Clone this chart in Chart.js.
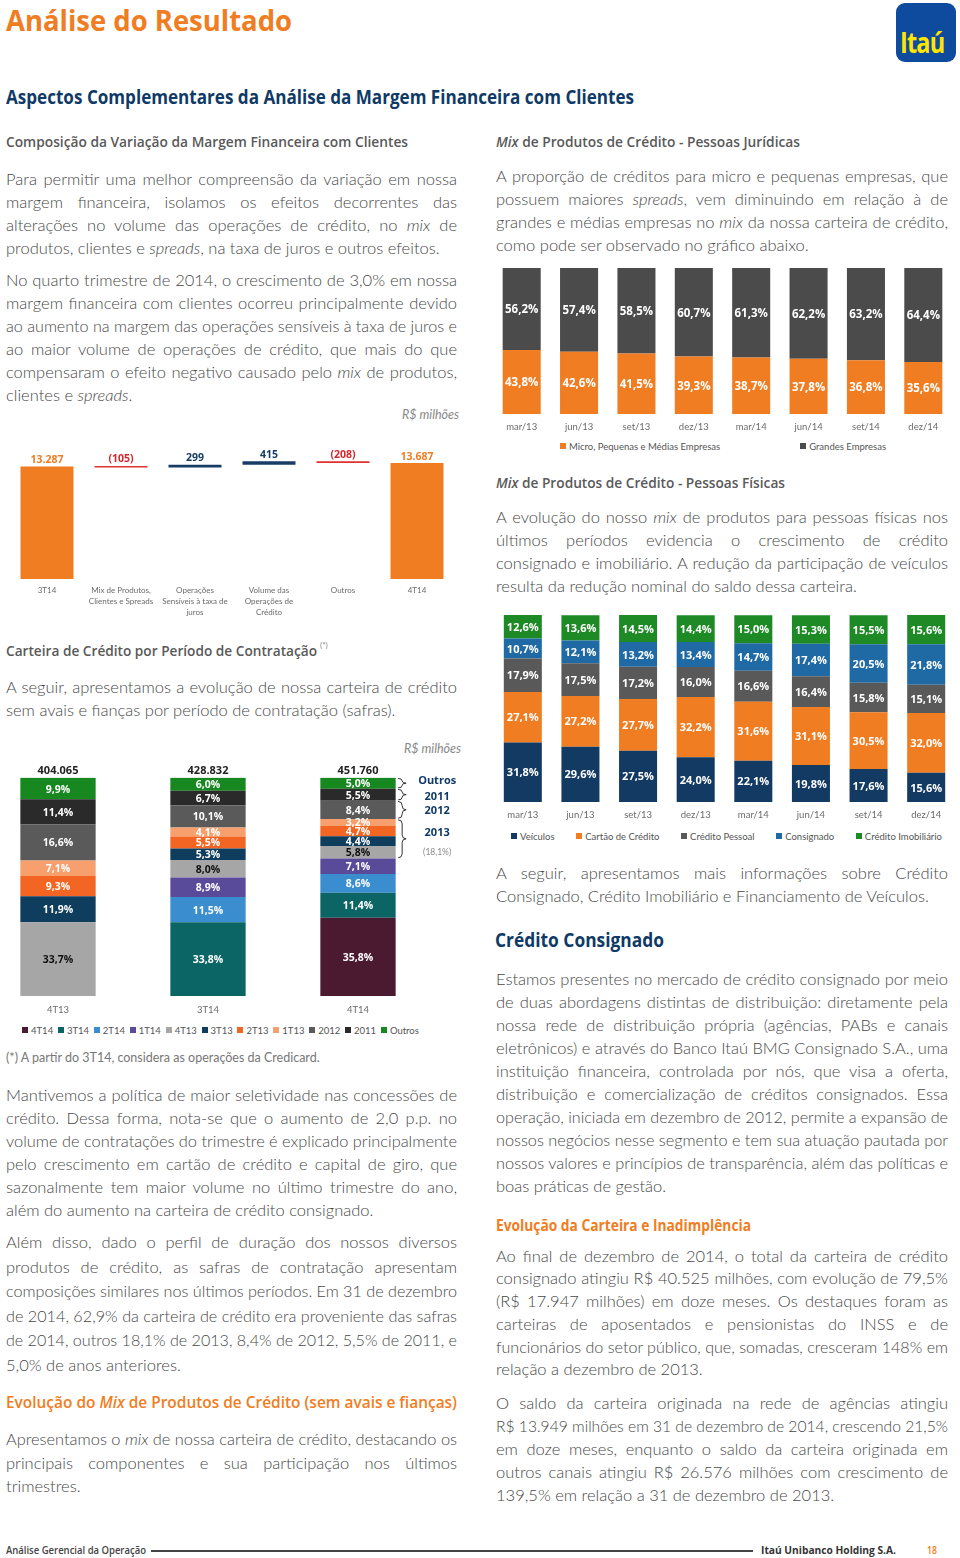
<!DOCTYPE html>
<html lang="pt-BR">
<head>
<meta charset="utf-8">
<title>Análise do Resultado</title>
<script src="https://cdn.jsdelivr.net/npm/chart.js@4.4.0/dist/chart.umd.min.js"></script>
<style>
  body { margin: 0; width: 960px; height: 1558px; position: relative; overflow: hidden; background: #fff; font-family: Lato, sans-serif; }
  canvas { position: absolute; }
  .h { position: absolute; white-space: nowrap; transform-origin: 0 50%; font-family: "Open Sans", sans-serif; font-weight: 700; }
  .p { position: absolute; color: #484848; font-size: 16.5px; font-weight: 300; }
  .ln { white-space: nowrap; }
  .note { position: absolute; white-space: nowrap; color: #888; }
  .lg { position: absolute; display: flex; justify-content: space-between; font-size: 9.5px; color: #555; line-height: 14px; white-space: nowrap; }
  .lg span i { display: inline-block; width: 6px; height: 6px; margin-right: 3px; vertical-align: 1px; }
  .logo { position: absolute; left: 896px; top: 3px; width: 60px; height: 59px; border-radius: 9px; background: #0E4A9E; }
  .logo b { position: absolute; left: 4px; top: 24px; color: #FFE500; font-family: "Open Sans", sans-serif; font-size: 28px; line-height: 30px; letter-spacing: -1px; transform: scaleX(0.84); transform-origin: 0 50%; }
</style>
</head>
<body>

<div class="h fit" data-w="286" style="left:6px;top:5px;font-size:28px;line-height:30px;color:#F07D22">Análise do Resultado</div>
<div class="logo"><b>Itaú</b></div>

<div class="h fit" data-w="628" style="left:6px;top:86px;font-size:19px;line-height:22px;color:#0F3A66">Aspectos Complementares da Análise da Margem Financeira com Clientes</div>

<div class="h fit" data-w="402" style="left:6px;top:132px;font-size:14.5px;line-height:20px;color:#595959;font-weight:600">Composição da Variação da Margem Financeira com Clientes</div>
<div class="h fit" data-w="304" style="left:496px;top:132px;font-size:14.5px;line-height:20px;color:#595959;font-weight:600"><i>Mix</i> de Produtos de Crédito - Pessoas Jurídicas</div>

<div class="note" style="left:402px;top:407px;font-size:12.5px;font-style:italic">R$ milhões</div>

<div class="h fit" data-w="311" style="left:6px;top:641px;font-size:14.5px;line-height:20px;color:#595959;font-weight:600">Carteira de Crédito por Período de Contratação</div>
<div class="note" style="left:320px;top:640px;font-size:8px">(*)</div>

<div class="note" style="left:404px;top:741px;font-size:12.5px;font-style:italic">R$ milhões</div>

<div class="note" style="left:6px;top:1050px;font-size:12.5px;color:#777">(*) A partir do 3T14, considera as operações da Credicard.</div>

<div class="h fit" data-w="451" style="left:6px;top:1392px;font-size:16.5px;line-height:20px;color:#F07D22;font-weight:600">Evolução do <i>Mix</i> de Produtos de Crédito (sem avais e fianças)</div>

<div class="h fit" data-w="289" style="left:496px;top:473px;font-size:14.5px;line-height:20px;color:#595959;font-weight:600"><i>Mix</i> de Produtos de Crédito - Pessoas Físicas</div>

<div class="h fit" data-w="169" style="left:495px;top:929px;font-size:19px;line-height:22px;color:#0F3A66">Crédito Consignado</div>
<div class="h fit" data-w="255" style="left:496px;top:1215px;font-size:15.5px;line-height:20px;color:#F07D22">Evolução da Carteira e Inadimplência</div>

<div class="h fit" data-w="140" style="left:6px;top:1543px;font-size:11px;line-height:14px;color:#444;font-weight:600">Análise Gerencial da Operação</div>
<div style="position:absolute;left:151px;top:1550px;width:602px;height:1.5px;background:#444"></div>
<div class="h fit" data-w="135" style="left:761px;top:1543px;font-size:11px;line-height:14px;color:#333">Itaú Unibanco Holding S.A.</div>
<div class="h fit" data-w="10" style="left:927px;top:1543px;font-size:11px;line-height:14px;color:#F07D22;font-weight:600">18</div>

<canvas id="wf" width="460" height="190" style="left:0;top:440px"></canvas>
<canvas id="safras" width="477" height="278" style="left:-17px;top:740px"></canvas>
<canvas id="pj" width="459" height="176" style="left:493px;top:260px"></canvas>
<canvas id="pf" width="461" height="219" style="left:494px;top:605px"></canvas>

<script>
// Composição da variação da margem financeira (R$ milhões)
const wfCategories = [["3T14"], ["Mix de Produtos,", "Clientes e Spreads"], ["Operações", "Sensíveis à taxa de", "juros"], ["Volume das", "Operações de", "Crédito"], ["Outros"], ["4T14"]];
const wfValues = [13287, -105, 299, 415, -208, 13687];

// Carteira de crédito por período de contratação (%)
const safraCategories = ["4T13", "3T14", "4T14"];
const safraTotals = [404065, 428832, 451760];
const safraNames = ["4T14", "3T14", "2T14", "1T14", "4T13", "3T13", "2T13", "1T13", "2012", "2011", "Outros"];
const safra4T14 = [null, null, 35.8];
const safra3T14 = [null, 33.8, 11.4];
const safra2T14 = [null, 11.5, 8.6];
const safra1T14 = [null, 8.9, 7.1];
const safra4T13 = [33.7, 8.0, 5.8];
const safra3T13 = [11.9, 5.3, 4.4];
const safra2T13 = [9.3, 5.5, 4.7];
const safra1T13 = [7.1, 4.1, 3.2];
const safra2012 = [16.6, 10.1, 8.4];
const safra2011 = [11.4, 6.7, 5.5];
const safraOutros = [9.9, 6.0, 5.0];

// Mix de produtos - periodos
const periods = ["mar/13", "jun/13", "set/13", "dez/13", "mar/14", "jun/14", "set/14", "dez/14"];

// Pessoas Jurídicas (%)
const pjMicro = [43.8, 42.6, 41.5, 39.3, 38.7, 37.8, 36.8, 35.6];
const pjGrandes = [56.2, 57.4, 58.5, 60.7, 61.3, 62.2, 63.2, 64.4];

// Pessoas Físicas (%)
const pfVeiculos = [31.8, 29.6, 27.5, 24.0, 22.1, 19.8, 17.6, 15.6];
const pfCartao = [27.1, 27.2, 27.7, 32.2, 31.6, 31.1, 30.5, 32.0];
const pfPessoal = [17.9, 17.5, 17.2, 16.0, 16.6, 16.4, 15.8, 15.1];
const pfConsignado = [10.7, 12.1, 13.2, 13.4, 14.7, 17.4, 20.5, 21.8];
const pfImobiliario = [12.6, 13.6, 14.5, 14.4, 15.0, 15.3, 15.5, 15.6];

// ---------- texto ----------
function para(x, y, w, lh, lines) {
  const box = document.createElement('div');
  box.className = 'p';
  box.style.left = x + 'px';
  box.style.top = y + 'px';
  box.style.width = w + 'px';
  lines.forEach(function (html) {
    const ln = document.createElement('div');
    ln.className = 'ln';
    ln.style.height = lh + 'px';
    ln.style.lineHeight = lh + 'px';
    const sp = document.createElement('span');
    sp.innerHTML = html;
    ln.appendChild(sp);
    box.appendChild(ln);
  });
  document.body.appendChild(box);
  box.querySelectorAll('.ln').forEach(function (ln, k) {
    const sp = ln.firstChild;
    const nat = sp.getBoundingClientRect().width;
    if (nat > w) {
      sp.style.display = 'inline-block';
      sp.style.transformOrigin = '0 50%';
      sp.style.transform = 'scaleX(' + (w / nat) + ')';
    } else if (k < lines.length - 1) {
      const n = (sp.textContent.match(/ /g) || []).length;
      if (n) sp.style.wordSpacing = ((w - nat) / n) + 'px';
    }
  });
}

para(6, 167.5, 451, 23, [
  "Para permitir uma melhor compreensão da variação em nossa",
  "margem financeira, isolamos os efeitos decorrentes das",
  "alterações no volume das operações de crédito, no <i>mix</i> de",
  "produtos, clientes e <i>spreads</i>, na taxa de juros e outros efeitos."
]);
para(6, 268.5, 451, 23, [
  "No quarto trimestre de 2014, o crescimento de 3,0% em nossa",
  "margem financeira com clientes ocorreu principalmente devido",
  "ao aumento na margem das operações sensíveis à taxa de juros e",
  "ao maior volume de operações de crédito, que mais do que",
  "compensaram o efeito negativo causado pelo <i>mix</i> de produtos,",
  "clientes e <i>spreads</i>."
]);
para(6, 675.5, 451, 23, [
  "A seguir, apresentamos a evolução de nossa carteira de crédito",
  "sem avais e fianças por período de contratação (safras)."
]);
para(6, 1083.5, 451, 23, [
  "Mantivemos a política de maior seletividade nas concessões de",
  "crédito. Dessa forma, nota-se que o aumento de 2,0 p.p. no",
  "volume de contratações do trimestre é explicado principalmente",
  "pelo crescimento em cartão de crédito e capital de giro, que",
  "sazonalmente tem maior volume no último trimestre do ano,",
  "além do aumento na carteira de crédito consignado."
]);
para(6, 1230, 451, 24.6, [
  "Além disso, dado o perfil de duração dos nossos diversos",
  "produtos de crédito, as safras de contratação apresentam",
  "composições similares nos últimos períodos. Em 31 de dezembro",
  "de 2014, 62,9% da carteira de crédito era proveniente das safras",
  "de 2014, outros 18,1% de 2013, 8,4% de 2012, 5,5% de 2011, e",
  "5,0% de anos anteriores."
]);
para(6, 1428, 451, 23.5, [
  "Apresentamos o <i>mix</i> de nossa carteira de crédito, destacando os",
  "principais componentes e sua participação nos últimos",
  "trimestres."
]);
para(496, 164.5, 452, 23, [
  "A proporção de créditos para micro e pequenas empresas, que",
  "possuem maiores <i>spreads</i>, vem diminuindo em relação à de",
  "grandes e médias empresas no <i>mix</i> da nossa carteira de crédito,",
  "como pode ser observado no gráfico abaixo."
]);
para(496, 505.5, 452, 23, [
  "A evolução do nosso <i>mix</i> de produtos para pessoas físicas nos",
  "últimos períodos evidencia o crescimento de crédito",
  "consignado e imobiliário. A redução da participação de veículos",
  "resulta da redução nominal do saldo dessa carteira."
]);
para(496, 861.5, 452, 23, [
  "A seguir, apresentamos mais informações sobre Crédito",
  "Consignado, Crédito Imobiliário e Financiamento de Veículos."
]);
para(496, 967.5, 452, 23, [
  "Estamos presentes no mercado de crédito consignado por meio",
  "de duas abordagens distintas de distribuição: diretamente pela",
  "nossa rede de distribuição própria (agências, PABs e canais",
  "eletrônicos) e através do Banco Itaú BMG Consignado S.A., uma",
  "instituição financeira, controlada por nós, que visa a oferta,",
  "distribuição e comercialização de créditos consignados. Essa",
  "operação, iniciada em dezembro de 2012, permite a expansão de",
  "nossos negócios nesse segmento e tem sua atuação pautada por",
  "nossos valores e princípios de transparência, além das políticas e",
  "boas práticas de gestão."
]);
para(496, 1244.5, 452, 22.8, [
  "Ao final de dezembro de 2014, o total da carteira de crédito",
  "consignado atingiu R$ 40.525 milhões, com evolução de 79,5%",
  "(R$ 17.947 milhões) em doze meses. Os destaques foram as",
  "carteiras de aposentados e pensionistas do INSS e de",
  "funcionários do setor público, que, somadas, cresceram 148% em",
  "relação a dezembro de 2013."
]);
para(496, 1391.5, 452, 23, [
  "O saldo da carteira originada na rede de agências atingiu",
  "R$ 13.949 milhões em 31 de dezembro de 2014, crescendo 21,5%",
  "em doze meses, enquanto o saldo da carteira originada em",
  "outros canais atingiu R$ 26.576 milhões com crescimento de",
  "139,5% em relação a 31 de dezembro de 2013."
]);

document.querySelectorAll('.fit').forEach(function (el) {
  const w = el.getBoundingClientRect().width;
  el.style.transform = 'scaleX(' + (+el.dataset.w / w) + ')';
});

// ---------- graficos ----------
Chart.defaults.font.family = "Lato, sans-serif";
Chart.defaults.color = '#666';
Chart.defaults.animation = false;
Chart.defaults.plugins.legend.display = false;
Chart.defaults.plugins.tooltip.enabled = false;

function pct(v) { return v.toFixed(1).replace('.', ',') + '%'; }
function milhar(v) { return String(Math.abs(v)).replace(/\B(?=(\d{3})+(?!\d))/g, '.'); }

function xAxis(h, pad, size, stacked) {
  return {
    stacked: stacked,
    grid: { display: false, drawTicks: false },
    border: { display: false },
    ticks: { padding: pad, font: { size: size, lineHeight: 1.35 }, color: '#6b6b6b', maxRotation: 0, autoSkip: false },
    afterFit: function (s) { s.height = h; }
  };
}

function segmentLabels(font) {
  return {
    id: 'segmentLabels',
    afterDatasetsDraw: function (chart) {
      const ctx = chart.ctx;
      ctx.save();
      ctx.font = font;
      ctx.textAlign = 'center';
      ctx.textBaseline = 'middle';
      chart.data.datasets.forEach(function (ds, i) {
        chart.getDatasetMeta(i).data.forEach(function (bar, j) {
          const v = ds.data[j];
          if (v == null) return;
          ctx.fillStyle = ds.labelColor || '#fff';
          ctx.fillText(pct(v), bar.x, (bar.y + bar.base) / 2 + 1);
        });
      });
      ctx.restore();
    }
  };
}

function legend(x, y, w, items) {
  const box = document.createElement('div');
  box.className = 'lg';
  box.style.left = x + 'px';
  box.style.top = (y - 7) + 'px';
  box.style.width = w + 'px';
  items.forEach(function (it) {
    const s = document.createElement('span');
    s.innerHTML = '<i style="background:' + it.backgroundColor + '"></i>' + it.label;
    box.appendChild(s);
  });
  document.body.appendChild(box);
}

// Waterfall
const wfFloat = [];
let run = 0;
wfValues.forEach(function (v, i) {
  if (i === 0 || i === wfValues.length - 1) { wfFloat.push([0, v]); run = v; }
  else { wfFloat.push([run, run + v]); run += v; }
});
function wfColor(i, txt) {
  if (i === 0 || i === wfValues.length - 1) return '#F07D22';
  if (wfValues[i] < 0) return txt ? '#D7262B' : '#E0302F';
  return '#173D66';
}
new Chart(document.getElementById('wf'), {
  type: 'bar',
  data: {
    labels: wfCategories,
    datasets: [{
      data: wfFloat,
      backgroundColor: wfValues.map(function (v, i) { return wfColor(i, false); }),
      borderWidth: 0,
      barPercentage: 0.716,
      categoryPercentage: 1,
      minBarLength: 1.5
    }]
  },
  options: {
    responsive: false,
    layout: { padding: { top: 12, left: 10, right: 6, bottom: 0 } },
    scales: {
      x: xAxis(51, 6, 8, false),
      y: { display: false, min: 0, max: 15000 }
    }
  },
  plugins: [{
    id: 'wfLabels',
    afterDatasetsDraw: function (chart) {
      const ctx = chart.ctx;
      ctx.save();
      ctx.font = 'bold 10.5px "Open Sans"';
      ctx.textAlign = 'center';
      ctx.textBaseline = 'alphabetic';
      chart.getDatasetMeta(0).data.forEach(function (bar, i) {
        const v = wfValues[i];
        const txt = v < 0 ? '(' + milhar(v) + ')' : milhar(v);
        ctx.fillStyle = wfColor(i, true);
        ctx.fillText(txt, bar.x, Math.min(bar.y, bar.base) - 3.5);
      });
      ctx.restore();
    }
  }]
});

// Carteira por safra
const safraData = [safra4T14, safra3T14, safra2T14, safra1T14, safra4T13, safra3T13, safra2T13, safra1T13, safra2012, safra2011, safraOutros];
const safraColors = ['#4B1A30', '#0B6565', '#3A8ED0', '#5A4B9A', '#A6A6A6', '#0F3D5E', '#F26522', '#F7A06E', '#5A5A5A', '#2A2A2A', '#16881F'];
const safraSets = safraNames.map(function (name, i) {
  return {
    label: name, data: safraData[i], backgroundColor: safraColors[i], borderWidth: 0,
    barPercentage: 0.502, categoryPercentage: 1,
    labelColor: name === '4T13' ? '#111' : '#fff'
  };
});
const braceGroups = [
  { label: 'Outros', sets: ['Outros'], dy: -2 },
  { label: '2011', sets: ['2011'], dy: 2 },
  { label: '2012', sets: ['2012'], dy: 1 },
  { label: '2013', sets: ['4T13', '3T13', '2T13', '1T13'], dy: -6, note: true }
];
function brace(ctx, x, y1, y2, w) {
  const m = (y1 + y2) / 2;
  const r = Math.min(4, (m - y1) / 2);
  const xm = x + w / 2;
  ctx.beginPath();
  ctx.moveTo(x, y1);
  ctx.quadraticCurveTo(xm, y1, xm, y1 + r);
  ctx.lineTo(xm, m - r);
  ctx.quadraticCurveTo(xm, m, x + w, m);
  ctx.quadraticCurveTo(xm, m, xm, m + r);
  ctx.lineTo(xm, y2 - r);
  ctx.quadraticCurveTo(xm, y2, x, y2);
  ctx.stroke();
}
new Chart(document.getElementById('safras'), {
  type: 'bar',
  data: { labels: safraCategories, datasets: safraSets },
  options: {
    responsive: false,
    layout: { padding: { top: 37.5, left: 0, right: 27, bottom: 0 } },
    scales: {
      x: xAxis(22, 8, 9.5, true),
      y: { display: false, stacked: true, min: 0, max: 100 }
    }
  },
  plugins: [segmentLabels('bold 10.5px "Open Sans"'), {
    id: 'safraExtras',
    afterDatasetsDraw: function (chart) {
      const ctx = chart.ctx;
      const yScale = chart.scales.y;
      ctx.save();
      ctx.textAlign = 'center';
      ctx.textBaseline = 'alphabetic';
      ctx.font = 'bold 11px "Open Sans"';
      ctx.fillStyle = '#222';
      safraCategories.forEach(function (c, j) {
        let sum = 0;
        safraData.forEach(function (d) { sum += d[j] || 0; });
        const x = chart.scales.x.getPixelForValue(j);
        ctx.fillText(milhar(safraTotals[j]), x, yScale.getPixelForValue(sum) - 4);
      });
      const col = safraCategories.length - 1;
      ctx.strokeStyle = '#333';
      ctx.lineWidth = 1;
      braceGroups.forEach(function (g) {
        let top = Infinity, bottom = -Infinity, total = 0, x0 = 0;
        g.sets.forEach(function (name) {
          const i = safraNames.indexOf(name);
          const bar = chart.getDatasetMeta(i).data[col];
          top = Math.min(top, bar.y);
          bottom = Math.max(bottom, bar.base);
          total += safraData[i][col];
          x0 = bar.x + bar.width / 2 + 2.5;
        });
        brace(ctx, x0, top + 0.8, bottom - 0.8, 8);
        const mid = (top + bottom) / 2;
        ctx.textBaseline = 'middle';
        ctx.font = 'bold 11px "Open Sans"';
        ctx.fillStyle = '#0F3A66';
        ctx.fillText(g.label, x0 + 39, mid + g.dy);
        if (g.note) {
          ctx.font = '8.5px Lato';
          ctx.fillStyle = '#8a8a8a';
          ctx.fillText('(' + total.toFixed(1).replace('.', ',') + '%)', x0 + 39, mid + 13);
        }
      });
      ctx.restore();
    }
  }]
});
legend(22, 1031, 397, safraSets);

// PJ
const pjSets = [
  { label: 'Micro, Pequenas e Médias Empresas', data: pjMicro, backgroundColor: '#F07D22' },
  { label: 'Grandes Empresas', data: pjGrandes, backgroundColor: '#4B4B4B' }
];
pjSets.forEach(function (d) { d.borderWidth = 0; d.barPercentage = 0.663; d.categoryPercentage = 1; });
new Chart(document.getElementById('pj'), {
  type: 'bar',
  data: { labels: periods, datasets: pjSets },
  options: {
    responsive: false,
    layout: { padding: { top: 8, left: 0, right: 0, bottom: 0 } },
    scales: {
      x: xAxis(22, 7, 9.5, true),
      y: { display: false, stacked: true, min: 0, max: 100 }
    }
  },
  plugins: [segmentLabels('bold 11.5px "Open Sans"')]
});
legend(560, 447, 326, pjSets);

// PF
const pfSets = [
  { label: 'Veículos', data: pfVeiculos, backgroundColor: '#133A63' },
  { label: 'Cartão de Crédito', data: pfCartao, backgroundColor: '#F07D22' },
  { label: 'Crédito Pessoal', data: pfPessoal, backgroundColor: '#595959' },
  { label: 'Consignado', data: pfConsignado, backgroundColor: '#1F6AA5' },
  { label: 'Crédito Imobiliário', data: pfImobiliario, backgroundColor: '#1E8A25' }
];
pfSets.forEach(function (d) { d.borderWidth = 0; d.barPercentage = 0.66; d.categoryPercentage = 1; });
new Chart(document.getElementById('pf'), {
  type: 'bar',
  data: { labels: periods, datasets: pfSets },
  options: {
    responsive: false,
    layout: { padding: { top: 10, left: 0, right: 0, bottom: 0 } },
    scales: {
      x: xAxis(22, 7, 9.5, true),
      y: { display: false, stacked: true, min: 0, max: 100.1 }
    }
  },
  plugins: [segmentLabels('bold 11px "Open Sans"')]
});
legend(511, 837, 431, pfSets);
</script>
</body>
</html>
